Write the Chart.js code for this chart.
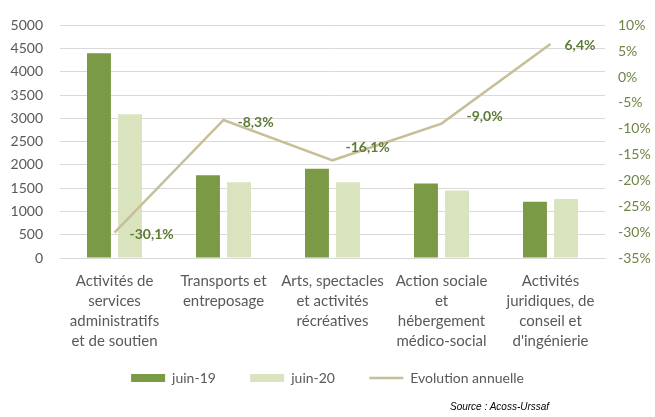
<!DOCTYPE html>
<html>
<head>
<meta charset="utf-8">
<script src="https://cdn.jsdelivr.net/npm/chart.js@4"></script>
<style>
  html, body { margin: 0; padding: 0; background: #ffffff; }
  #wrap { position: relative; width: 655px; height: 417px; }
  #source { position: absolute; left: 450px; top: 401px; font: italic 10px "Liberation Sans", Arial, sans-serif; color: #000; }
</style>
</head>
<body>
<div id="wrap">
  <canvas id="c" width="655" height="417"></canvas>
  <div id="source">Source : Acoss-Urssaf</div>
</div>
<script>
const categories = [
  ["Activités de", "services", "administratifs", "et de soutien"],
  ["Transports et", "entreposage"],
  ["Arts, spectacles", "et activités", "récréatives"],
  ["Action sociale", "et", "hébergement", "médico-social"],
  ["Activités", "juridiques, de", "conseil et", "d'ingénierie"]
];
const juin19 = [4400, 1780, 1920, 1600, 1210];
const juin20 = [3090, 1630, 1630, 1450, 1270];
const evolution = [-30.1, -8.3, -16.1, -9.0, 6.4];
const evolutionLabels = ["-30,1%", "-8,3%", "-16,1%", "-9,0%", "6,4%"];
const seriesNames = ["juin-19", "juin-20", "Evolution annuelle"];

const FONT = "Lato, 'Open Sans', sans-serif";

const lineLabels = {
  id: 'lineLabels',
  afterDatasetsDraw(chart, args, opts) {
    const meta = chart.getDatasetMeta(2);
    const ctx = chart.ctx;
    ctx.save();
    ctx.font = "bold 14px " + FONT;
    ctx.fillStyle = "#5E7B36";
    ctx.textAlign = "left";
    ctx.textBaseline = "middle";
    meta.data.forEach((pt, i) => {
      const off = opts.offsets[i];
      ctx.fillText(evolutionLabels[i], pt.x + off[0], pt.y + off[1]);
    });
    ctx.restore();
  }
};

new Chart(document.getElementById('c'), {
  data: {
    labels: categories,
    datasets: [
      { type: 'bar', label: seriesNames[0] + '    ', data: juin19, backgroundColor: '#7B9A45', borderWidth: 0, yAxisID: 'y', order: 2, categoryPercentage: 0.57, barPercentage: 0.77, pointStyle: 'rect' },
      { type: 'bar', label: seriesNames[1] + '    ', data: juin20, backgroundColor: '#D9E4BE', borderWidth: 0, yAxisID: 'y', order: 2, categoryPercentage: 0.57, barPercentage: 0.77, pointStyle: 'rect' },
      { type: 'line', label: seriesNames[2], data: evolution, borderColor: '#C6BF98', backgroundColor: '#C6BF98', borderWidth: 2.5, pointRadius: 0, tension: 0, yAxisID: 'y1', order: 1, pointStyle: 'line' }
    ]
  },
  options: {
    responsive: false,
    animation: false,
    layout: { padding: { top: 17, left: 0, right: 0, bottom: 22 } },
    plugins: {
      tooltip: { enabled: false },
      lineLabels: { offsets: [[15, 2], [14, 2], [13, -13], [25, -7], [14, 1]] },
      legend: {
        position: 'bottom',
        labels: {
          usePointStyle: true,
          pointStyleWidth: 34,
          boxHeight: 8,
          boxWidth: 34,
          padding: 20,
          color: '#595959',
          font: { family: FONT, size: 14 },
          sort: (a, b) => a.datasetIndex - b.datasetIndex
        }
      }
    },
    scales: {
      x: {
        grid: { display: false, drawTicks: false, tickLength: 0 },
        border: { display: true, color: '#D9D9D9' },
        ticks: { color: '#595959', font: { family: FONT, size: 15, lineHeight: 1.333 }, maxRotation: 0, autoSkip: false, padding: 13 },
        afterFit(s) { s.height = 93; }
      },
      y: {
        position: 'left',
        min: 0, max: 5000,
        ticks: { stepSize: 500, color: '#595959', font: { family: FONT, size: 14 }, padding: 17, callback: v => String(v) },
        grid: { color: '#D9D9D9', drawTicks: false },
        border: { display: false },
        afterFit(s) { s.width = 60; }
      },
      y1: {
        position: 'right',
        min: -35, max: 10,
        ticks: { stepSize: 5, color: '#6F8447', font: { family: FONT, size: 14 }, padding: 13, callback: v => v + '%' },
        grid: { display: false, drawTicks: false },
        border: { display: false },
        afterFit(s) { s.width = 50; }
      }
    }
  },
  plugins: [lineLabels]
});
</script>
</body>
</html>
